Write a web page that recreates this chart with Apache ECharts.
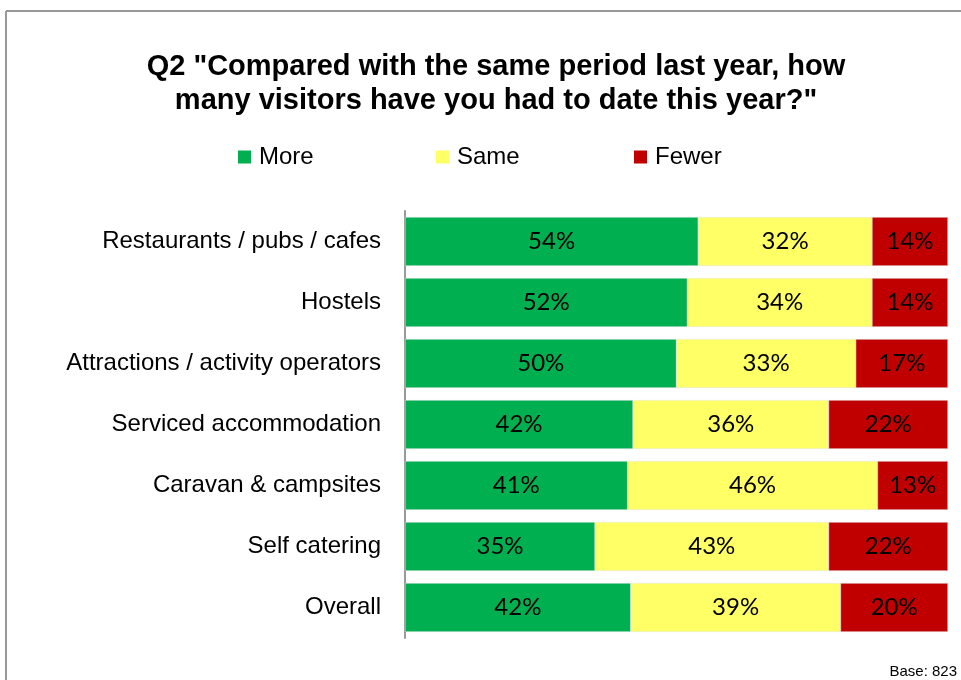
<!DOCTYPE html>
<html>
<head>
<meta charset="utf-8">
<script src="https://cdn.jsdelivr.net/npm/echarts@6/dist/echarts.min.js"></script>
<style>
  html, body { margin: 0; padding: 0; background: #fff; }
  #chart { width: 961px; height: 680px; }
</style>
</head>
<body>
<div id="chart"></div>
<script>
// Survey answers per business type (percent of respondents)
const categories = [
  'Restaurants / pubs / cafes',
  'Hostels',
  'Attractions / activity operators',
  'Serviced accommodation',
  'Caravan & campsites',
  'Self catering',
  'Overall'
];
const seriesNames = ['More', 'Same', 'Fewer'];
const more  = [54, 52, 50, 42, 41, 35, 42];
const same  = [32, 34, 33, 36, 46, 43, 39];
const fewer = [14, 14, 17, 22, 13, 22, 20];
const colors = ['#00B050', '#FFFF66', '#C00000'];

// Rows are drawn as 100% stacks: each share is scaled by its row total
const rowTotals = categories.map((_, i) => more[i] + same[i] + fewer[i]);
const toShare = arr => arr.map((v, i) => ({ value: v / rowTotals[i] * 100, raw: v }));

const chart = echarts.init(document.getElementById('chart'));

function barSeries(name, arr, color) {
  return {
    name: name,
    type: 'bar',
    stack: 'total',
    barCategoryGap: '20%',
    data: toShare(arr),
    itemStyle: { color: color, borderColor: '#e6e6e6', borderWidth: 0.5 },
    label: {
      show: true,
      position: 'inside',
      color: '#000',
      fontFamily: 'Lato, "Open Sans", sans-serif',
      fontSize: 24,
      formatter: p => p.data.raw + '%'
    },
    emphasis: { disabled: true }
  };
}

const sansFont = '"Liberation Sans", Arial, sans-serif';
const legendLefts = [238, 436, 634];

chart.setOption({
  animation: false,
  title: {
    text: 'Q2 "Compared with the same period last year, how\nmany visitors have you had to date this year?"',
    left: 491,
    textAlign: 'center',
    top: 45,
    textStyle: {
      fontFamily: sansFont,
      fontWeight: 'bold',
      fontSize: 29,
      lineHeight: 34,
      color: '#000'
    }
  },
  legend: seriesNames.map((n, i) => ({
    data: [n],
    left: legendLefts[i],
    top: 145,
    padding: 0,
    icon: 'rect',
    itemWidth: 13,
    itemHeight: 13,
    itemGap: 0,
    selectedMode: false,
    itemStyle: { borderWidth: 0 },
    textStyle: { fontFamily: sansFont, fontSize: 24, color: '#000', padding: [0, 0, 0, 3] }
  })),
  grid: { left: 405, right: 13, top: 211, bottom: 42, containLabel: false },
  xAxis: { type: 'value', min: 0, max: 100, show: false },
  yAxis: {
    type: 'category',
    data: categories,
    inverse: true,
    axisLine: { show: true, lineStyle: { color: '#999', width: 2 } },
    axisTick: { show: false },
    axisLabel: {
      margin: 24,
      color: '#000',
      fontFamily: sansFont,
      fontSize: 24,
      padding: [4, 0, 0, 0]
    }
  },
  series: [
    barSeries(seriesNames[0], more, colors[0]),
    barSeries(seriesNames[1], same, colors[1]),
    barSeries(seriesNames[2], fewer, colors[2])
  ],
  graphic: [
    { type: 'line', shape: { x1: 6, y1: 11, x2: 961, y2: 11 }, style: { stroke: '#999', lineWidth: 2 } },
    { type: 'line', shape: { x1: 6, y1: 11, x2: 6, y2: 680 }, style: { stroke: '#999', lineWidth: 2 } },
    {
      type: 'text', right: 4, top: 664,
      style: { text: 'Base: 823', fill: '#000', font: '15px "Liberation Sans", Arial, sans-serif' }
    }
  ]
});
</script>
</body>
</html>
